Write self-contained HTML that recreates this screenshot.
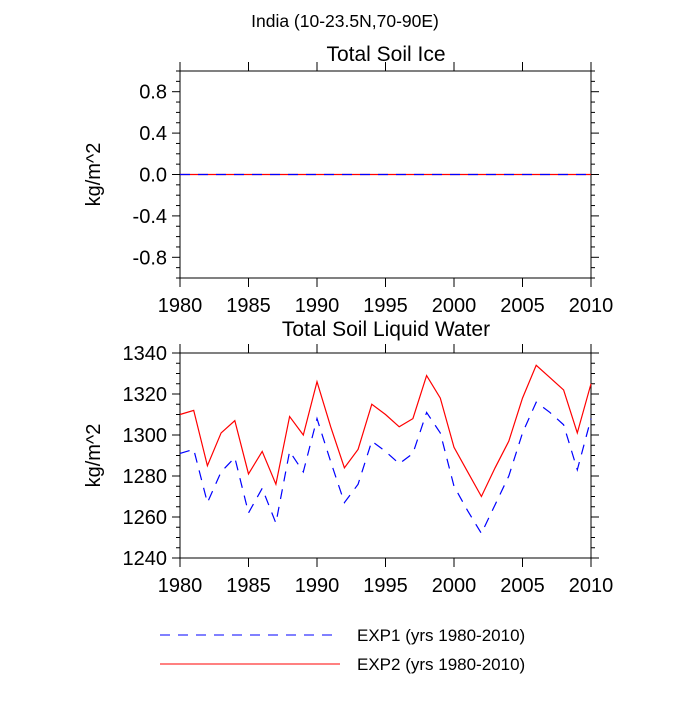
<!DOCTYPE html>
<html><head><meta charset="utf-8"><style>
body{margin:0;background:#fff}
svg text{font-family:"Liberation Sans",sans-serif;fill:#000}
</style></head><body>
<svg id="c" width="700" height="700" viewBox="0 0 700 700">
<text x="345" y="27" font-size="17.5" text-anchor="middle">India (10-23.5N,70-90E)</text>
<text x="386" y="61" font-size="21" text-anchor="middle">Total Soil Ice</text>
<text x="386" y="336" font-size="21" text-anchor="middle">Total Soil Liquid Water</text>
<g id="top"></g>
<g id="bot"></g>
<g>
<line x1="160" y1="635" x2="340" y2="635" stroke="#0000ff" stroke-dasharray="10,8"/>
<text x="357" y="641" font-size="17">EXP1 (yrs 1980-2010)</text>
<line x1="160" y1="664" x2="340" y2="664" stroke="#ff0000"/>
<text x="357" y="670" font-size="17">EXP2 (yrs 1980-2010)</text>
</g>
</svg>
<script>
const years=[1980,1981,1982,1983,1984,1985,1986,1987,1988,1989,1990,1991,1992,1993,1994,1995,1996,1997,1998,1999,2000,2001,2002,2003,2004,2005,2006,2007,2008,2009,2010];
const exp1Liquid=[1291,1293,1267,1282,1289,1262,1274,1257,1292,1282,1308,1287,1267,1276,1297,1292,1286,1291,1311,1301,1275,1263,1252,1266,1280,1301,1316,1311,1305,1283,1308];
const exp2Liquid=[1310,1312,1285,1301,1307,1281,1292,1276,1309,1300,1326,1304,1284,1293,1315,1310,1304,1308,1329,1318,1294,1282,1270,1284,1297,1318,1334,1328,1322,1301,1325];
const exp1Ice=years.map(()=>0);
const exp2Ice=years.map(()=>0);
const xTicks=[1980,1985,1990,1995,2000,2005,2010];
const topYTicks=[-0.8,-0.4,0.0,0.4,0.8];
const botYTicks=[1240,1260,1280,1300,1320,1340];
const NS="http://www.w3.org/2000/svg";
function el(t,a,p){const e=document.createElementNS(NS,t);for(const k in a)e.setAttribute(k,a[k]);p.appendChild(e);return e;}
function panel(g,top,bottom,ymin,ymax,yTicks,minorStep,fmt,s1,s2,n){
  const L=180,R=591;
  const x=v=>L+(v-1980)/30*(R-L);
  const y=v=>bottom-(v-ymin)/(ymax-ymin)*(bottom-top);
  const box=el('rect',{x:L,y:top,width:R-L,height:bottom-top,fill:'none',stroke:'#000','stroke-width':1},g);
  
  
  for(let v=ymin;v<=ymax+1e-9;v+=minorStep){
    const yy=y(v);
    const mj=yTicks.some(t=>Math.abs(t-v)<1e-6);
    const len=mj?8:4;
    const t1=el('line',{x1:L-len,y1:yy,x2:L,y2:yy,stroke:'#000'},g);
    
    
    const t2=el('line',{x1:R,y1:yy,x2:R+len,y2:yy,stroke:'#000'},g);
    
    
  }
  yTicks.forEach(v=>{
    const t=el('text',{x:L-13,y:y(v)+7,'font-size':20,'text-anchor':'end'},g);
    t.textContent=fmt(v);
    
    
  });
  xTicks.forEach(v=>{
    const a=el('line',{x1:x(v),y1:bottom,x2:x(v),y2:bottom+9,stroke:'#000'},g);
    
    
    const b=el('line',{x1:x(v),y1:top-9,x2:x(v),y2:top,stroke:'#000'},g);
    
    
    const t=el('text',{x:x(v),y:bottom+34,'font-size':20,'text-anchor':'middle'},g);
    t.textContent=v;
    
    
  });
  const yl=el('text',{x:0,y:0,'font-size':20,'text-anchor':'middle',transform:`translate(100,${(top+bottom)/2}) rotate(-90)`},g);
  yl.textContent='kg/m^2';
  
  
  const p2=el('polyline',{points:years.map((yr,i)=>x(yr)+','+y(s2[i])).join(' '),fill:'none',stroke:'#ff0000','stroke-width':1.2},g);
  
  
  const p1=el('polyline',{points:years.map((yr,i)=>x(yr)+','+y(s1[i])).join(' '),fill:'none',stroke:'#0000ff','stroke-width':1.2,'stroke-dasharray':'10,8'},g);
  
  
}
panel(document.getElementById('top'),71,278,-1,1,topYTicks,0.1,v=>v.toFixed(1),exp1Ice,exp2Ice,'ice');
panel(document.getElementById('bot'),353,558,1240,1340,botYTicks,5,v=>String(v),exp1Liquid,exp2Liquid,'liquid');
</script>
</body></html>
